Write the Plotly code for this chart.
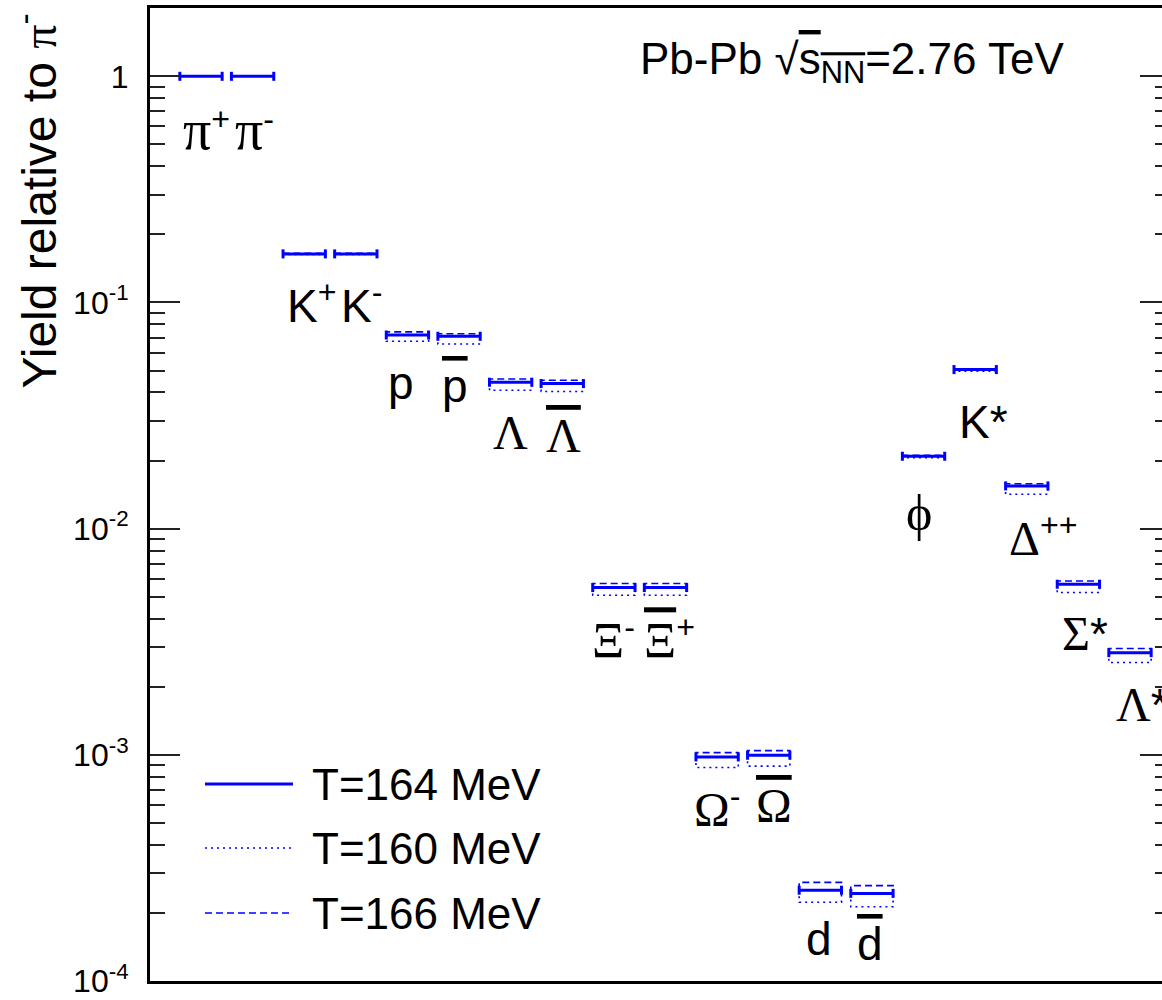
import math
import plotly.graph_objects as go

# ---------------- data ----------------
particles = ["pi+", "pi-", "K+", "K-", "p", "pbar", "Lambda", "Lambdabar", "Xi-", "Xibar+",
             "Omega-", "Omegabar+", "d", "dbar", "phi", "K*", "Delta++", "Sigma*", "Lambda*"]
yield_T164 = [1.0, 1.0, 0.164, 0.164, 0.0718, 0.0709, 0.0444, 0.0438, 0.00549, 0.00549,
              0.000979, 0.000996, 0.000252, 0.000244, 0.0209, 0.0505, 0.01545, 0.00568, 0.00283]
yield_T160 = [1.0, 1.0, 0.163, 0.163, 0.0674, 0.0655, 0.0409, 0.0404, 0.00508, 0.00508,
              0.000879, 0.000891, 0.000223, 0.000213, 0.0206, 0.0497, 0.0142, 0.00522, 0.00256]
yield_T166 = [1.0, 1.0, 0.165, 0.165, 0.0741, 0.0727, 0.0459, 0.0453, 0.00572, 0.00572,
              0.001023, 0.001044, 0.000273, 0.000264, 0.0211, 0.0509, 0.0158, 0.00587, 0.00295]
series_names = ["T=164 MeV", "T=160 MeV", "T=166 MeV"]
ytick_vals = [1e-4, 1e-3, 1e-2, 1e-1, 1]
ytick_text = ["10<sup>-4</sup>", "10<sup>-3</sup>", "10<sup>-2</sup>", "10<sup>-1</sup>", "1"]

# ---------------- style ----------------
BLUE = "#0000ff"
W, H = 1162, 1000
ML, MR, MT, MB = 150, 0, 8, 19
HALF = 0.41          # half width of each bar (category units)
CAP = 1.047          # cap half-height factor on log scale
SANS = "Liberation Sans, Arial, sans-serif"


def G(s, over=False, size=None):
    st = "font-family:Liberation Serif"
    if size:
        st += f";font-size:{size}px"
    if over:
        st += ";text-decoration:overline;text-decoration-thickness:3px"
    return f"<span style='{st}'>{s}</span>"


def OL(s):
    return f"<span style='text-decoration:overline;text-decoration-thickness:3px'>{s}</span>"


labels = [G("π", size=56) + "<sup>+</sup>", G("π", size=56) + "<sup>-</sup>",
          "K<sup>+</sup>", "K<sup>-</sup>", "p", OL("p"),
          G("Λ", size=48), G("Λ", True, 48), G("Ξ", size=50) + "<sup>-</sup>",
          G("Ξ", True, 50) + "<sup>+</sup>",
          G("Ω", size=48) + "<sup>-</sup>", G("Ω", True, 48),
          "d", OL("d"), G("ϕ", size=50), "K*", G("Δ", size=48) + "<sup>++</sup>",
          G("Σ", size=48) + "*", G("Λ", size=48) + "*"]
label_dx = [6, 2, 8, 6, -6, -4, 0, 1, 0, 4, 0, 5, -1, -2, -5, 8, 16, 7, 12]
label_dy = [-54, -54, -49, -49, -48, -50, -50, -52, -51, -51, -50, -50, -49, -51, -57, -52, -50, -49, -52]

xs = list(range(len(particles)))

fig = go.Figure()


def seg_trace(vals_base, vals, dash, width, name):
    x, y = [], []
    for c, b, v in zip(xs, vals_base, vals):
        x += [c - HALF, c - HALF, c + HALF, c + HALF, None]
        y += [b, v, v, b, None]
    return go.Scatter(x=x, y=y, mode="lines", name=name, showlegend=False,
                      line=dict(color=BLUE, width=width, dash=dash), hoverinfo="skip")


# dotted (T=160) and dashed (T=166)
fig.add_trace(seg_trace(yield_T164, yield_T160, "2px,4px", 1.6, series_names[1]))
fig.add_trace(seg_trace(yield_T164, yield_T166, "7px,4px", 1.6, series_names[2]))

# solid T=164 with end caps
sx, sy, cx, cy = [], [], [], []
for c, v in zip(xs, yield_T164):
    sx += [c - HALF, c + HALF, None]
    sy += [v, v, None]
    cx += [c - HALF, c - HALF, None, c + HALF, c + HALF, None]
    cy += [v / CAP, v * CAP, None, v / CAP, v * CAP, None]
fig.add_trace(go.Scatter(x=sx, y=sy, mode="lines", name=series_names[0], showlegend=False,
                         line=dict(color=BLUE, width=3), hoverinfo="skip"))
fig.add_trace(go.Scatter(x=cx, y=cy, mode="lines", showlegend=False,
                         line=dict(color=BLUE, width=3), hoverinfo="skip"))
# invisible trace for right mirrored axis
fig.add_trace(go.Scatter(x=[xs[0]], y=[yield_T164[0]], yaxis="y2", mode="markers",
                         marker=dict(opacity=0), showlegend=False, hoverinfo="skip"))

# particle labels (annotation y on a log axis is given in log10 units)
for c, v, t, dx, dy in zip(xs, yield_T164, labels, label_dx, label_dy):
    fig.add_annotation(x=c, y=math.log10(v), yref="y", text=t, showarrow=False,
                       xanchor="center", yanchor="middle", xshift=dx, yshift=dy,
                       font=dict(family=SANS, size=46, color="black"))


def px2paper(px, py):
    return (px - ML) / (W - ML - MR), (H - MB - py) / (H - MT - MB)


# manual legend
leg_rows = [(784, "solid", 3, series_names[0]),
            (848, "2px,4px", 1.6, series_names[1]),
            (913, "7px,4px", 1.6, series_names[2])]
for py, dash, w, name in leg_rows:
    x0, y0 = px2paper(205, py)
    x1, _ = px2paper(293, py)
    fig.add_shape(type="line", xref="paper", yref="paper", x0=x0, x1=x1, y0=y0, y1=y0,
                  line=dict(color=BLUE, width=w, dash=dash))
    tx, ty = px2paper(310, py)
    fig.add_annotation(xref="paper", yref="paper", x=tx, y=ty, text=name, showarrow=False,
                       xanchor="left", yanchor="middle",
                       font=dict(family=SANS, size=44, color="black"))

# header text
hx, hy = px2paper(638, 62)
fig.add_annotation(xref="paper", yref="paper", x=hx, y=hy,
                   text="Pb-Pb √" + OL("s<sub>NN</sub>") + "=2.76 TeV",
                   showarrow=False, xanchor="left", yanchor="middle",
                   font=dict(family=SANS, size=44, color="black"))

# y title
tx, ty = px2paper(35, 12)
fig.add_annotation(xref="paper", yref="paper", x=tx, y=ty,
                   text="Yield relative to " + G("π") + "<sup>-</sup>",
                   textangle=-90, showarrow=False, xanchor="center", yanchor="top",
                   font=dict(family=SANS, size=48, color="black"))

minor_vals = [k * 10.0 ** e for e in range(-4, 1) for k in range(2, 10)]

fig.update_layout(
    width=W, height=H,
    margin=dict(l=ML, r=MR, t=MT, b=MB, pad=0),
    paper_bgcolor="white", plot_bgcolor="white",
    showlegend=False,
    xaxis=dict(range=[-0.988, 18.62], showline=True, linewidth=3, linecolor="black",
               mirror=True, showticklabels=False, ticks="", showgrid=False, zeroline=False),
    yaxis=dict(type="log", range=[-4, 0.302], showline=True, linewidth=3, linecolor="black",
               ticks="inside", ticklen=30, tickwidth=2, tickcolor="#222",
               tickvals=ytick_vals, ticktext=ytick_text, ticklabelstandoff=12,
               tickfont=dict(family=SANS, size=32, color="black"),
               minor=dict(tickvals=minor_vals, ticks="inside", ticklen=15, tickwidth=2,
                          tickcolor="#222", showgrid=False),
               showgrid=False, zeroline=False),
    yaxis2=dict(type="log", range=[-4, 0.302], overlaying="y", side="right", anchor="x",
                showline=False, ticks="inside", ticklen=22, tickwidth=2, tickcolor="#222",
                tickvals=ytick_vals, showticklabels=False,
                minor=dict(tickvals=minor_vals, ticks="inside", ticklen=7, tickwidth=2,
                           tickcolor="#222", showgrid=False),
                showgrid=False, zeroline=False),
)

fig.write_html("out.html")
